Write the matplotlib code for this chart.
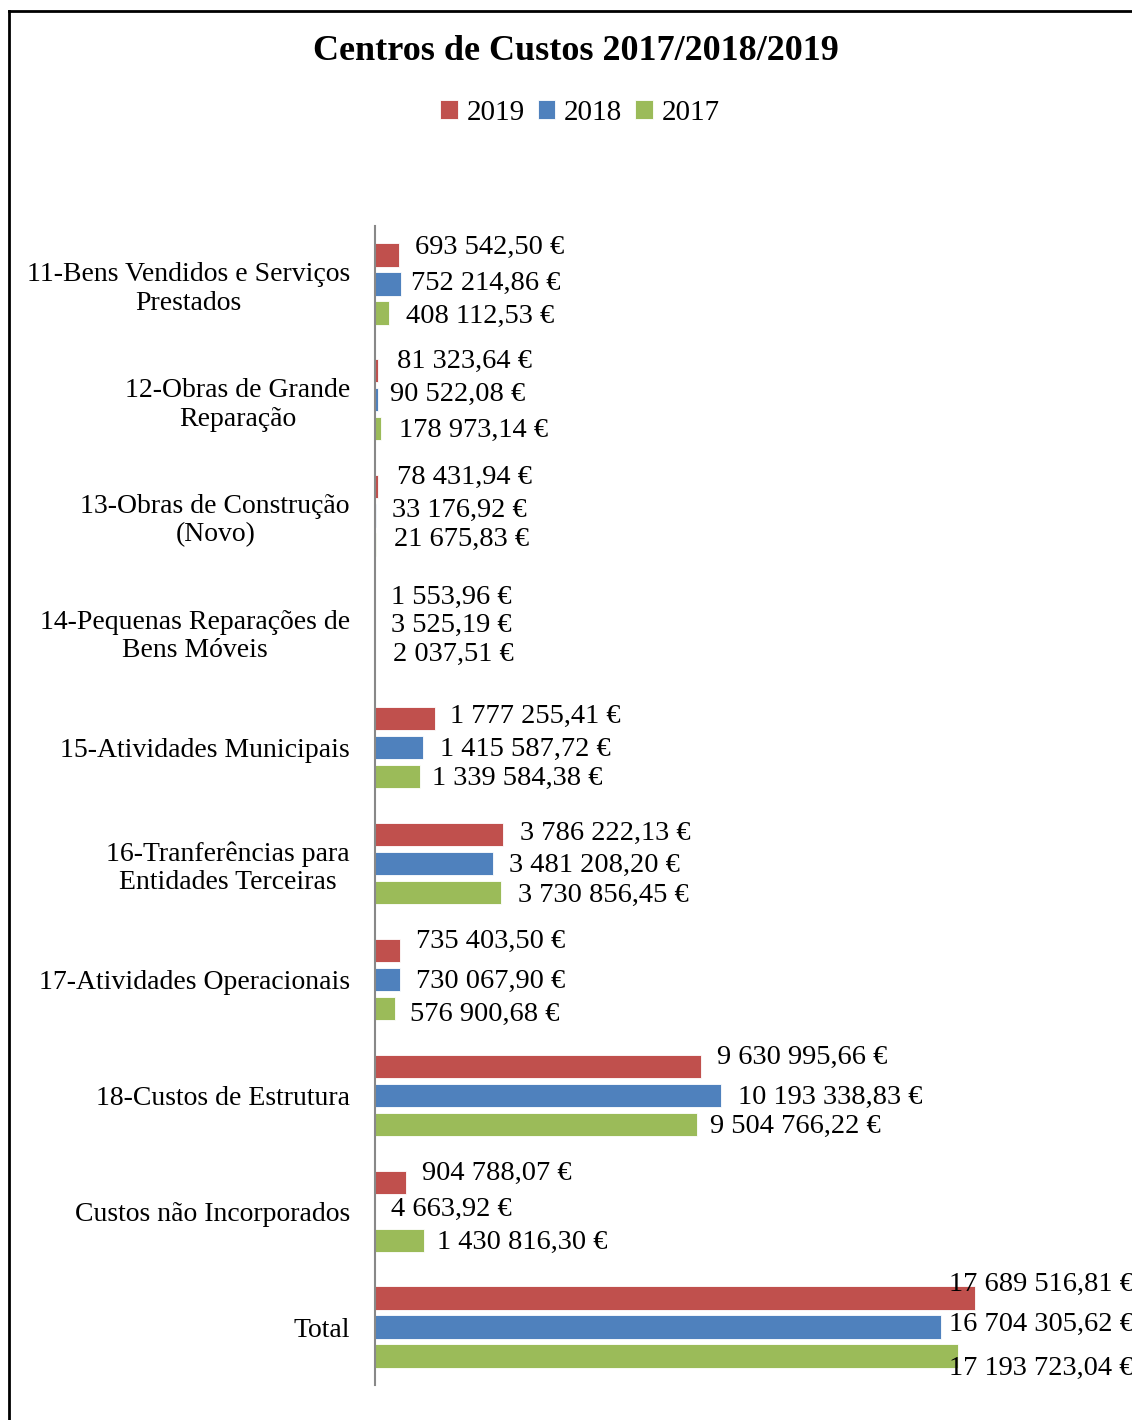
import numpy as np
import matplotlib.pyplot as plt
from matplotlib.lines import Line2D

plt.rcParams['font.family'] = ['Liberation Serif', 'DejaVu Serif']

categories = ["11-Bens Vendidos e Serviços\nPrestados",
              "12-Obras de Grande\nReparação",
              "13-Obras de Construção\n(Novo)",
              "14-Pequenas Reparações de\nBens Móveis",
              "15-Atividades Municipais",
              "16-Tranferências para\nEntidades Terceiras",
              "17-Atividades Operacionais",
              "18-Custos de Estrutura",
              "Custos não Incorporados",
              "Total"]

v2019 = [693542.50, 81323.64, 78431.94, 1553.96, 1777255.41,
         3786222.13, 735403.50, 9630995.66, 904788.07, 17689516.81]
v2018 = [752214.86, 90522.08, 33176.92, 3525.19, 1415587.72,
         3481208.20, 730067.90, 10193338.83, 4663.92, 16704305.62]
v2017 = [408112.53, 178973.14, 21675.83, 2037.51, 1339584.38,
         3730856.45, 576900.68, 9504766.22, 1430816.30, 17193723.04]

series = [("2019", v2019, "#C0504D"),
          ("2018", v2018, "#4F81BD"),
          ("2017", v2017, "#9BBB59")]

# label shifts in pixels (dx, dy) per series, per category (Excel moved labels)
shift_2019 = [(16, 8), (19, 9), (19, 9), (16, 5), (15, 2), (17, 1), (16, 9), (16, 9), (16, 9), (-26, 14)]
shift_2018 = [(10, 1), (12, 5), (16, 5), (16, 6), (17, -2), (16, -2), (16, -2), (17, -2), (16, 2), (8, 3)]
shift_2017 = [(17, -3), (18, -2), (18, 5), (18, 6), (12, -2), (17, -3), (15, -6), (13, -2), (13, -2), (-9, -12)]
shifts = [shift_2019, shift_2018, shift_2017]


def fmt(v):
    s = f"{v:,.2f}"
    s = s.replace(",", " ").replace(".", ",")
    return s + " €"


fig = plt.figure(figsize=(11.32, 14.2), dpi=100)
ax = fig.add_axes([375 / 1132, 35 / 1420, 678 / 1132, 1159 / 1420])

y = np.arange(len(categories))
for k, (name, vals, col) in enumerate(series):
    pos = y + (k - 1) * 0.25
    ax.barh(pos, vals, height=0.2, color=col, label=name,
            edgecolor="white", linewidth=0.6)
    for i, v in enumerate(vals):
        dx, dy = shifts[k][i]
        ax.annotate(fmt(v), xy=(v, pos[i]), xytext=(dx, dy),
                    textcoords="offset pixels", ha="left", va="center",
                    fontsize=20.5, annotation_clip=False)

ax.set_xlim(0, 20e6)
ax.set_ylim(len(categories) - 0.5, -0.5)
ax.set_yticks(y)
ax.set_yticklabels(categories, fontsize=20, ha="right", multialignment="center")
ax.tick_params(axis="y", length=0, pad=18)
ax.set_xticks([])
for sp in ["top", "right", "bottom"]:
    ax.spines[sp].set_visible(False)
ax.spines["left"].set_color("#888888")
ax.spines["left"].set_linewidth(1.5)

fig.text(576 / 1132, 1 - 52 / 1420, "Centros de Custos 2017/2018/2019",
         ha="center", va="center", fontsize=26, fontweight="bold")
fig.legend(loc="center", bbox_to_anchor=(580 / 1132, 1 - 113 / 1420),
           ncol=3, frameon=False, fontsize=21, handlelength=0.6,
           handleheight=0.6, handletextpad=0.3, columnspacing=0.45)

# outer border (only left and top visible)
fig.add_artist(Line2D([9 / 1132, 9 / 1132], [0, 1 - 11 / 1420],
                      color="black", linewidth=2, transform=fig.transFigure))
fig.add_artist(Line2D([9 / 1132, 1], [1 - 11 / 1420, 1 - 11 / 1420],
                      color="black", linewidth=2, transform=fig.transFigure))

fig.savefig("out.png", dpi=100)
